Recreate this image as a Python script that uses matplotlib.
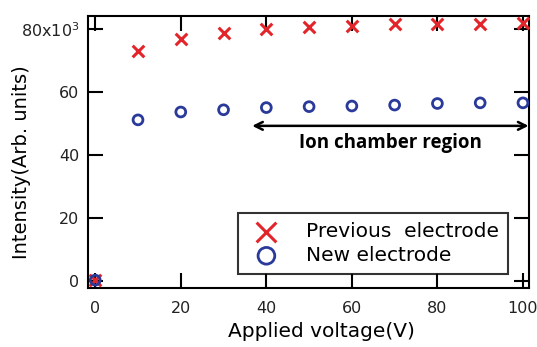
import matplotlib
matplotlib.use("Agg")
from matplotlib import pyplot as plt

# Intensity vs applied voltage for the two electrodes (x10^3)
voltage = [0, 10, 20, 30, 40, 50, 60, 70, 80, 90, 100]
previous = [0.3, 73.2, 77.0, 78.8, 80.0, 80.7, 81.1, 81.5, 81.7, 81.8, 81.9]
new = [0.3, 51.2, 53.7, 54.4, 55.1, 55.4, 55.6, 55.9, 56.4, 56.6, 56.6]

yticks = [0, 20, 40, 60, 80]
yticklabels = ['0', '20', '40', '60', '80x10$^3$']
xticks = [0, 20, 40, 60, 80, 100]

plt.rcParams['font.family'] = ['DejaVu Sans']

fig = plt.figure(figsize=(5.37, 3.47), dpi=100)
ax = fig.add_axes([0.163, 0.170, 0.822, 0.784])

ax.scatter(voltage, previous, marker='x', s=70, color='#E2252B',
           linewidths=2.2, label='Previous  electrode', zorder=3)
ax.scatter(voltage, new, marker='o', s=50, facecolors='none',
           edgecolors='#2A3A9A', linewidths=2.0, label='New electrode', zorder=3)

ax.set_xlim(-1.8, 101.4)
ax.set_ylim(-2.2, 84.2)
ax.set_xticks(xticks)
ax.set_yticks(yticks)
ax.set_yticklabels(yticklabels)
ax.tick_params(direction='in', length=10.5, width=1.5, top=True, right=True,
               labelsize=11.5, labelcolor='#222222')
ax.tick_params(axis='x', pad=9)
ax.tick_params(axis='y', pad=6)
for side in ax.spines.values():
    side.set_linewidth(1.5)

ax.set_xlabel('Applied voltage(V)', fontsize=14.5)
ax.set_ylabel('Intensity(Arb. units)', fontsize=14)
ax.xaxis.set_label_coords(0.529, -0.125)
ax.yaxis.set_label_coords(-0.128, 0.461)

# Arrow marking the ion chamber region
ax.annotate('', xy=(101.3, 49.3), xytext=(36.7, 49.3),
            arrowprops=dict(arrowstyle='<->', color='black', lw=1.8,
                            mutation_scale=14, shrinkA=0, shrinkB=0))
ax.text(69, 43.9, 'Ion chamber region', ha='center', va='center',
        fontsize=13.5, fontweight='bold', family=['Open Sans', 'DejaVu Sans'])

leg = ax.legend(loc='lower right', bbox_to_anchor=(0.952, 0.051),
                fontsize=14.5, markerscale=1.7, frameon=True, fancybox=False,
                edgecolor='black', borderpad=0.45, handletextpad=1.0,
                labelspacing=0.25, handlelength=1.9, borderaxespad=0)
leg.get_frame().set_linewidth(1.5)

fig.savefig('out.png', dpi=100)
